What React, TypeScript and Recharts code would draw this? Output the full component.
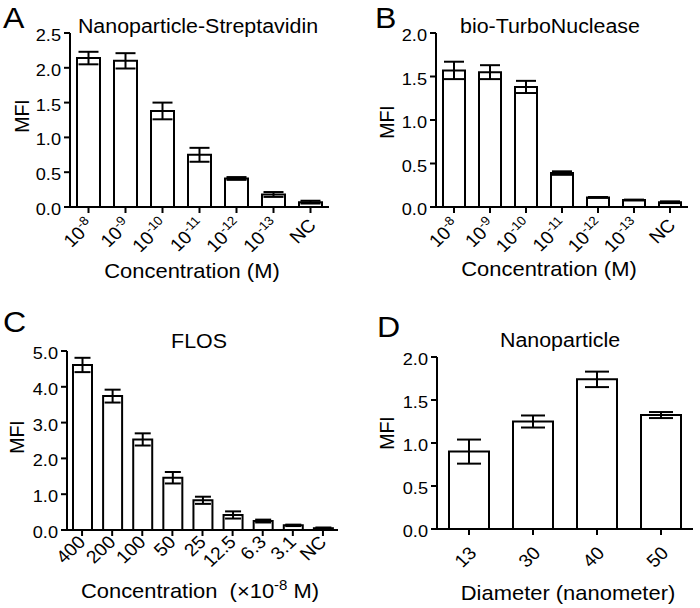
import React from 'react';
import { BarChart, Bar, XAxis, YAxis, ErrorBar } from 'recharts';

const FONT = '"Liberation Sans", Arial, Helvetica, sans-serif';
const SX = 1.07; // horizontal stretch of the lettering in the original figure

// Panel A: Nanoparticle-Streptavidin
const catsA = ['10^-8', '10^-9', '10^-10', '10^-11', '10^-12', '10^-13', 'NC'];
const valuesA = [2.14, 2.1, 1.38, 0.75, 0.41, 0.18, 0.07];
const errorsA = [0.09, 0.11, 0.12, 0.1, 0.02, 0.035, 0.02];
const ticksA = [0, 0.5, 1.0, 1.5, 2.0, 2.5];

// Panel B: bio-TurboNuclease
const catsB = ['10^-8', '10^-9', '10^-10', '10^-11', '10^-12', '10^-13', 'NC'];
const valuesB = [1.57, 1.55, 1.38, 0.39, 0.11, 0.08, 0.055];
const errorsB = [0.1, 0.08, 0.07, 0.02, 0.005, 0.005, 0.01];
const ticksB = [0, 0.5, 1.0, 1.5, 2.0];

// Panel C: FLOS
const catsC = ['400', '200', '100', '50', '25', '12.5', '6.3', '3.1', 'NC'];
const valuesC = [4.61, 3.74, 2.53, 1.46, 0.83, 0.42, 0.25, 0.13, 0.05];
const errorsC = [0.2, 0.18, 0.17, 0.16, 0.1, 0.1, 0.04, 0.02, 0.02];
const ticksC = [0, 1, 2, 3, 4, 5];

// Panel D: Nanoparticle
const catsD = ['13', '30', '40', '50'];
const valuesD = [0.9, 1.25, 1.74, 1.325];
const errorsD = [0.14, 0.07, 0.09, 0.035];
const ticksD = [0, 0.5, 1.0, 1.5, 2.0];

const build = (cats: string[], vals: number[], errs: number[]) =>
  cats.map((c, i) => ({ cat: c, value: vals[i], err: errs[i] }));

const RotTick = (props: any) => {
  const { x, y, payload, ox = 0, oy = 0 } = props;
  const label = String(payload.value);
  const [base, exp] = label.split('^');
  return (
    <g transform={`translate(${x + ox},${y + oy}) scale(${SX},1) rotate(-45)`}>
      <text x={0} y={6} textAnchor="end" fontSize={18} fontFamily={FONT} fill="#000">
        <tspan>{base}</tspan>
        {exp ? (
          <tspan dy={-7} fontSize={12.5}>
            {exp}
          </tspan>
        ) : null}
      </text>
    </g>
  );
};

const YTick = (props: any) => {
  const { x, y, payload } = props;
  return (
    <text
      transform={`translate(${x},${y + 8}) scale(${SX},1)`}
      textAnchor="end"
      fontSize={17}
      fontFamily={FONT}
      fill="#000"
    >
      {Number(payload.value).toFixed(1)}
    </text>
  );
};

type PanelProps = {
  data: { cat: string; value: number; err: number }[];
  left: number;
  top: number;
  width: number;
  height: number;
  marginTop: number;
  marginRight: number;
  yWidth: number;
  xHeight: number;
  yMax: number;
  yTicks: number[];
  barSize: number;
  cap: number;
  ox: number;
  oy: number;
};

const Panel = (p: PanelProps) => (
  <div style={{ position: 'absolute', left: p.left, top: p.top }}>
    <BarChart
      width={p.width}
      height={p.height}
      data={p.data}
      margin={{ top: p.marginTop, right: p.marginRight, left: 0, bottom: 0 }}
    >
      <XAxis
        dataKey="cat"
        interval={0}
        height={p.xHeight}
        tickSize={6}
        axisLine={{ stroke: '#000', strokeWidth: 2 }}
        tickLine={{ stroke: '#000', strokeWidth: 2 }}
        tick={<RotTick ox={p.ox} oy={p.oy} />}
      />
      <YAxis
        type="number"
        domain={[0, p.yMax]}
        ticks={p.yTicks}
        interval={0}
        width={p.yWidth}
        tickSize={6}
        tickMargin={3}
        axisLine={{ stroke: '#000', strokeWidth: 2 }}
        tickLine={{ stroke: '#000', strokeWidth: 2 }}
        tick={<YTick />}
      />
      <Bar
        dataKey="value"
        fill="#fff"
        stroke="#000"
        strokeWidth={2}
        barSize={p.barSize}
        isAnimationActive={false}
      >
        <ErrorBar
          dataKey="err"
          direction="y"
          width={p.cap}
          stroke="#000"
          strokeWidth={2}
          isAnimationActive={false}
        />
      </Bar>
    </BarChart>
  </div>
);

const T = ({
  x,
  y,
  size,
  anchor = 'middle',
  rot = 0,
  children,
}: {
  x: number;
  y: number;
  size: number;
  anchor?: 'start' | 'middle' | 'end';
  rot?: number;
  children: React.ReactNode;
}) => (
  <text
    transform={`translate(${x},${y}) scale(${SX},1)${rot ? ` rotate(${rot})` : ''}`}
    fontSize={size}
    textAnchor={anchor}
    fontFamily={FONT}
    fill="#000"
  >
    {children}
  </text>
);

export default function App() {
  return (
    <div
      style={{
        position: 'absolute',
        left: 0,
        top: 0,
        width: 700,
        height: 608,
        background: '#fff',
        overflow: 'hidden',
      }}
    >
      <Panel
        data={build(catsA, valuesA, errorsA)}
        left={0}
        top={0}
        width={350}
        height={300}
        marginTop={33}
        marginRight={21}
        yWidth={70}
        xHeight={93}
        yMax={2.5}
        yTicks={ticksA}
        barSize={23}
        cap={10}
        ox={2}
        oy={7}
      />
      <Panel
        data={build(catsB, valuesB, errorsB)}
        left={350}
        top={0}
        width={350}
        height={300}
        marginTop={33}
        marginRight={12}
        yWidth={86}
        xHeight={93}
        yMax={2}
        yTicks={ticksB}
        barSize={22}
        cap={10}
        ox={2}
        oy={7}
      />
      <Panel
        data={build(catsC, valuesC, errorsC)}
        left={0}
        top={300}
        width={350}
        height={308}
        marginTop={51}
        marginRight={12}
        yWidth={67}
        xHeight={78}
        yMax={5}
        yTicks={ticksC}
        barSize={19}
        cap={8}
        ox={0}
        oy={1}
      />
      <Panel
        data={build(catsD, valuesD, errorsD)}
        left={350}
        top={300}
        width={350}
        height={308}
        marginTop={57}
        marginRight={7}
        yWidth={87}
        xHeight={79}
        yMax={2}
        yTicks={ticksD}
        barSize={40}
        cap={12}
        ox={4}
        oy={13}
      />
      <svg
        width={700}
        height={608}
        style={{ position: 'absolute', left: 0, top: 0, pointerEvents: 'none' }}
      >
        {/* panel letters */}
        <T x={3} y={28} size={30} anchor="start">A</T>
        <T x={375} y={28} size={30} anchor="start">B</T>
        <T x={3} y={332} size={30} anchor="start">C</T>
        <T x={377} y={337} size={30} anchor="start">D</T>

        {/* titles */}
        <T x={198} y={33} size={20}>Nanoparticle-Streptavidin</T>
        <T x={550} y={33} size={20}>bio-TurboNuclease</T>
        <T x={199} y={348} size={20}>FLOS</T>
        <T x={560} y={347} size={20}>Nanoparticle</T>

        {/* x-axis labels */}
        <T x={192} y={277.5} size={20.5}>Concentration (M)</T>
        <T x={549} y={276} size={20.5}>Concentration (M)</T>
        <T x={200} y={598} size={20.5}>
          <tspan>{'Concentration\u00A0\u00A0(\u00D710'}</tspan>
          <tspan dy={-8} fontSize={14}>-8</tspan>
          <tspan dy={8}>{' M)'}</tspan>
        </T>
        <T x={568} y={600} size={20.5}>Diameter (nanometer)</T>

        {/* y-axis labels */}
        <T x={29} y={116} size={19.5} rot={-90}>MFI</T>
        <T x={394} y={122} size={19.5} rot={-90}>MFI</T>
        <T x={24} y={437} size={19.5} rot={-90}>MFI</T>
        <T x={394} y={433} size={19.5} rot={-90}>MFI</T>
      </svg>
    </div>
  );
}
